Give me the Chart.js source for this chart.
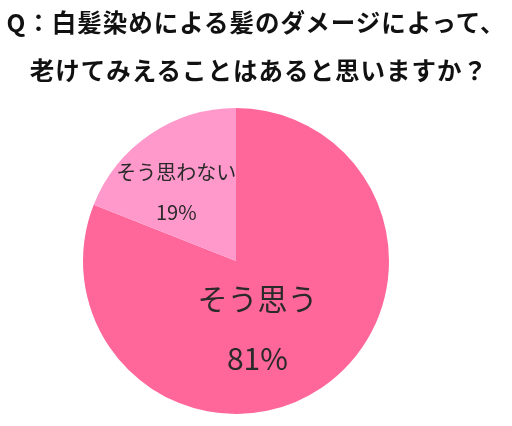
<!DOCTYPE html>
<html>
<head>
<meta charset="utf-8">
<script src="https://cdn.jsdelivr.net/npm/chart.js@4/dist/chart.umd.min.js"></script>
<style>
  html, body { margin: 0; padding: 0; background: #fff; }
  #wrap { position: relative; width: 512px; height: 426px; }
  #pie { position: absolute; left: 0; top: 0; }
  .title {
    position: absolute; left: 0; width: 512px; text-align: center;
    font-family: "Noto Sans CJK JP", sans-serif; font-weight: bold;
    font-size: 24.5px; line-height: 30px; color: #111; white-space: nowrap;
    letter-spacing: 1px;
  }
</style>
</head>
<body>
<div id="wrap">
  <canvas id="pie" width="512" height="426"></canvas>
  <div class="title" id="t1" style="top:7px"></div>
  <div class="title" id="t2" style="top:55px; left:3px"></div>
</div>
<script>
const titleLines = ["Q：白髪染めによる髪のダメージによって、", "老けてみえることはあると思いますか？"];
const answers    = ["そう思う", "そう思わない"];
const shares     = [81, 19];
const colors     = ["#FF6699", "#FF99CC"];

// where each slice's text sits, in units of the pie radius from its centre
const labelSpot  = [
  { dx: 0.14, dy: 0.44, size: 30, gap: 60 },
  { dx: -0.39, dy: -0.45, size: 20, gap: 40 }
];

document.getElementById("t1").textContent = titleLines[0];
document.getElementById("t2").textContent = titleLines[1];

const sliceText = {
  id: "sliceText",
  afterDatasetsDraw(chart){
    const { ctx } = chart;
    const arcs = chart.getDatasetMeta(0).data;
    ctx.save();
    ctx.fillStyle = "#2a2a2a";
    ctx.textAlign = "center";
    ctx.textBaseline = "middle";
    arcs.forEach((arc, i) => {
      const spot = labelSpot[i];
      const r = arc.outerRadius;
      const cx = arc.x + spot.dx * r;
      const cy = arc.y + spot.dy * r;
      ctx.font = `${spot.size}px "Noto Sans CJK JP", sans-serif`;
      ctx.fillText(answers[i], cx, cy - spot.gap / 2);
      ctx.fillText(`${shares[i]}%`, cx, cy + spot.gap / 2);
    });
    ctx.restore();
  }
};

new Chart(document.getElementById("pie"), {
  type: "pie",
  data: {
    labels: answers,
    datasets: [{
      data: shares,
      backgroundColor: colors,
      borderWidth: 0
    }]
  },
  options: {
    responsive: false,
    animation: false,
    layout: { padding: { left: 83, right: 123, top: 108, bottom: 12 } },
    plugins: {
      legend: { display: false },
      tooltip: { enabled: false },
      title: { display: false }
    }
  },
  plugins: [sliceText]
});
</script>
</body>
</html>
